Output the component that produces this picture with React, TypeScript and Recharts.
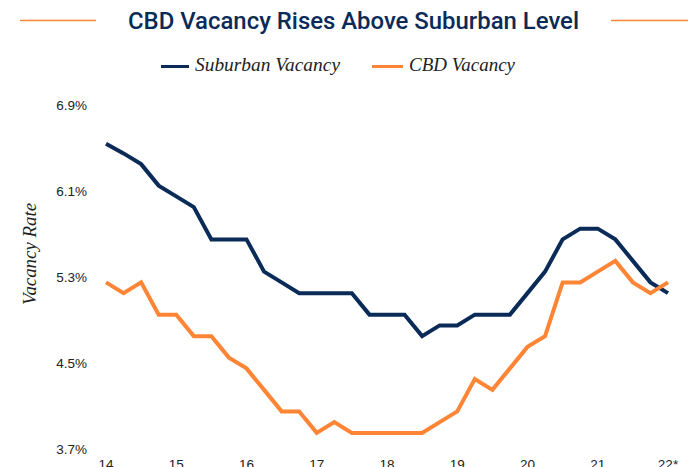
import React from 'react';
import { LineChart, Line, XAxis, YAxis } from 'recharts';

const quarterIndex: number[] = Array.from({ length: 33 }, (_, i) => i);
const suburbanVacancy: number[] = [
  6.54, 6.45, 6.35, 6.15, 6.05, 5.95, 5.65, 5.65, 5.65, 5.35, 5.25,
  5.15, 5.15, 5.15, 5.15, 4.95, 4.95, 4.95, 4.75, 4.85, 4.85, 4.95,
  4.95, 4.95, 5.15, 5.35, 5.65, 5.75, 5.75, 5.65, 5.45, 5.25, 5.15,
];
const cbdVacancy: number[] = [
  5.25, 5.15, 5.25, 4.95, 4.95, 4.75, 4.75, 4.55, 4.45, 4.25, 4.05,
  4.05, 3.85, 3.95, 3.85, 3.85, 3.85, 3.85, 3.85, 3.95, 4.05, 4.35,
  4.25, 4.45, 4.65, 4.75, 5.25, 5.25, 5.35, 5.45, 5.25, 5.15, 5.25,
];
const xTickPositions: number[] = [0, 4, 8, 12, 16, 20, 24, 28, 32];
const xTickLabels: string[] = ['14', '15', '16', '17', '18', '19', '20', '21', '22*'];
const yTicks: number[] = [3.7, 4.5, 5.3, 6.1, 6.9];

const data = quarterIndex.map((q, i) => ({
  q,
  suburban: suburbanVacancy[i],
  cbd: cbdVacancy[i],
}));

const NAVY = '#0a2b58';
const ORANGE = '#fd8535';

export default function App() {
  return (
    <div style={{ position: 'absolute', left: 0, top: 0, width: 691, height: 467, background: '#fff', overflow: 'hidden' }}>
      <LineChart
        width={691}
        height={467}
        data={data}
        margin={{ top: 105, right: 23, bottom: 0, left: 0 }}
      >
        <XAxis
          dataKey="q"
          type="number"
          domain={[0, 32]}
          ticks={xTickPositions}
          tickFormatter={(v: number) => xTickLabels[xTickPositions.indexOf(v)] ?? ''}
          axisLine={false}
          tickLine={false}
          tickSize={0}
          tickMargin={10}
          height={18}
          interval={0}
          tick={{ fill: '#222', fontSize: 13.5, fontFamily: 'Liberation Sans, Arial, sans-serif' }}
        />
        <YAxis
          domain={[3.7, 6.9]}
          ticks={yTicks}
          type="number"
          allowDataOverflow
          width={106}
          axisLine={false}
          tickLine={false}
          tickSize={0}
          tickMargin={19}
          tickFormatter={(v: number) => `${v.toFixed(1)}%`}
          tick={{ fill: '#222', fontSize: 13.5, fontFamily: 'Liberation Sans, Arial, sans-serif' }}
        />
        <Line
          type="linear"
          dataKey="suburban"
          stroke={NAVY}
          strokeWidth={4}
          dot={false}
          isAnimationActive={false}
        />
        <Line
          type="linear"
          dataKey="cbd"
          stroke={ORANGE}
          strokeWidth={4}
          dot={false}
          isAnimationActive={false}
        />
      </LineChart>
      <svg width={691} height={467} style={{ position: 'absolute', left: 0, top: 0, pointerEvents: 'none' }}>
        <line x1={20} y1={20.5} x2={96} y2={20.5} stroke={ORANGE} strokeWidth={1.5} />
        <line x1={611} y1={20.5} x2={688} y2={20.5} stroke={ORANGE} strokeWidth={1.5} />
        <text
          x={353.5}
          y={28.5}
          textAnchor="middle"
          fill={NAVY}
          fontSize={24}
          fontWeight={500}
          fontFamily="Roboto, Arial, sans-serif"
          textLength={451}
          lengthAdjust="spacingAndGlyphs"
        >
          CBD Vacancy Rises Above Suburban Level
        </text>
        <line x1={161} y1={66.5} x2={189} y2={66.5} stroke={NAVY} strokeWidth={3} />
        <text
          x={195}
          y={71}
          fill="#222"
          fontSize={19}
          fontStyle="italic"
          fontFamily="Liberation Serif, Times New Roman, serif"
          textLength={145}
          lengthAdjust="spacingAndGlyphs"
        >
          Suburban Vacancy
        </text>
        <line x1={372} y1={66.5} x2={403} y2={66.5} stroke={ORANGE} strokeWidth={3} />
        <text
          x={409}
          y={71}
          fill="#222"
          fontSize={19}
          fontStyle="italic"
          fontFamily="Liberation Serif, Times New Roman, serif"
          textLength={106}
          lengthAdjust="spacingAndGlyphs"
        >
          CBD Vacancy
        </text>
        <text
          x={0}
          y={0}
          transform="translate(36,254) rotate(-90)"
          textAnchor="middle"
          fill="#222"
          fontSize={19}
          fontStyle="italic"
          fontFamily="Liberation Serif, Times New Roman, serif"
          textLength={102}
          lengthAdjust="spacingAndGlyphs"
        >
          Vacancy Rate
        </text>
      </svg>
    </div>
  );
}
